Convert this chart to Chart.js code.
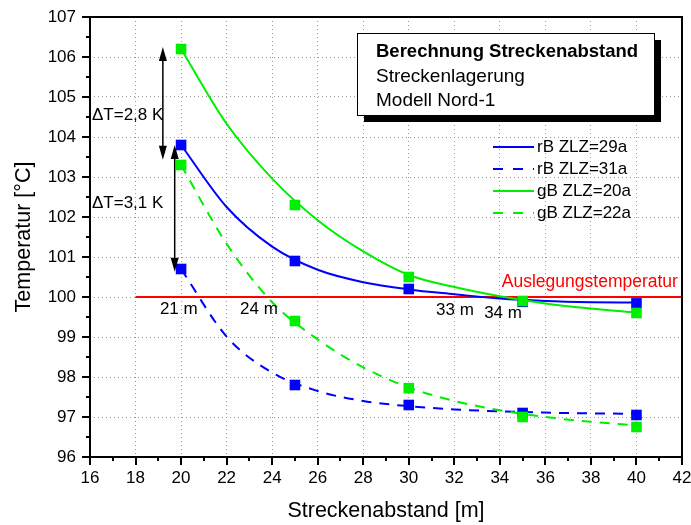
<!DOCTYPE html>
<html>
<head>
<meta charset="utf-8">
<script src="https://cdn.jsdelivr.net/npm/chart.js@4.4.1/dist/chart.umd.min.js"></script>
<style>
  html, body { margin: 0; padding: 0; background: #fff; }
</style>
</head>
<body>
<canvas id="myChart" width="691" height="525"></canvas>
<script>
// --- measured points (square markers) ---
const distances = [20, 25, 30, 35, 40];
const rB29 = [103.8, 100.9, 100.2, 99.88, 99.84];
const rB31 = [100.7, 97.8, 97.3, 97.1, 97.05];
const gB20 = [106.2, 102.3, 100.5, 99.9, 99.6];
const gB22 = [103.3, 99.4, 97.72, 97.0, 96.75];

// --- fitted curves ---
const fitX = [20, 22, 24, 26, 28, 30, 32, 34, 36, 38, 40];
const rB29fit = [103.8, 102.25, 101.26, 100.68, 100.37, 100.19, 100.07, 99.96, 99.9, 99.87, 99.86];
const rB31fit = [100.7, 99.01, 98.11, 97.65, 97.4, 97.27, 97.19, 97.14, 97.11, 97.09, 97.08];
const gB20fit = [106.2, 104.33, 102.96, 101.92, 101.14, 100.55, 100.25, 100.02, 99.84, 99.71, 99.61];
const gB22fit = [103.3, 101.33, 99.87, 98.94, 98.24, 97.74, 97.4, 97.17, 97.0, 96.88, 96.79];

const seriesLabels = ["rB ZLZ=29a", "rB ZLZ=31a", "gB ZLZ=20a", "gB ZLZ=22a"];

const designTemp = 100;
const designRange = [18, 42];
const designLabel = "Auslegungstemperatur";

const xTicks = [16, 42, 2];
const yTicks = [96, 107, 1];

// crossing labels (x, y, text)
const crossLabels = [
  [19.9, 99.7, "21 m"],
  [23.42, 99.7, "24 m"],
  [32.03, 99.66, "33 m"],
  [34.14, 99.6, "34 m"],
];
// delta arrows (x, yTop, yBottom, label, labelY)
const deltaArrows = [
  [19.2, 106.25, 103.43, "\u0394T=2,8 K", 104.53],
  [19.72, 103.8, 100.63, "\u0394T=3,1 K", 102.35],
];
const boxLines = ["Berechnung Streckenabstand", "Streckenlagerung", "Modell Nord-1"];

const FONT = "'Liberation Sans', Arial, sans-serif";
const BLUE = "#0000ff";
const GREEN = "#00ee00";

function toPoints(xs, values) {
  return xs.map((d, i) => ({ x: d, y: values[i] }));
}

function curve(label, values, color, dashed, order) {
  return {
    label: label,
    data: toPoints(fitX, values),
    borderColor: color,
    borderWidth: 2,
    borderDash: dashed ? [10, 8] : [],
    pointRadius: 0,
    cubicInterpolationMode: "monotone",
    order: order,
  };
}

function markers(values, color, order) {
  return {
    label: "",
    data: toPoints(distances, values),
    showLine: false,
    pointStyle: "rect",
    pointRadius: 7.5,
    pointBackgroundColor: color,
    pointBorderColor: color,
    pointBorderWidth: 0,
    order: order,
  };
}

const datasets = [
  curve(seriesLabels[0], rB29fit, BLUE, false, 8),
  curve(seriesLabels[1], rB31fit, BLUE, true, 7),
  curve(seriesLabels[2], gB20fit, GREEN, false, 5),
  curve(seriesLabels[3], gB22fit, GREEN, true, 6),
  markers(rB29, BLUE, 4),
  markers(rB31, BLUE, 3),
  markers(gB20, GREEN, 1),
  markers(gB22, GREEN, 2),
  {
    label: designLabel,
    data: designRange.map((v) => ({ x: v, y: designTemp })),
    borderColor: "#ff0000",
    borderWidth: 2,
    pointRadius: 0,
    order: 9,
  },
];

function arrowHead(ctx, x, y, dir) {
  ctx.beginPath();
  ctx.moveTo(x, y);
  ctx.lineTo(x - 4, y - dir * 14);
  ctx.lineTo(x + 4, y - dir * 14);
  ctx.closePath();
  ctx.fill();
}

const overlay = {
  id: "overlay",
  afterDraw(chart) {
    const { ctx, chartArea: a } = chart;
    const x = chart.scales.x;
    const y = chart.scales.y;
    ctx.save();

    // frame
    ctx.strokeStyle = "#000";
    ctx.lineWidth = 2;
    ctx.strokeRect(a.left, a.top, a.right - a.left, a.bottom - a.top);

    // major + minor ticks (outward)
    ctx.beginPath();
    for (let v = xTicks[0]; v <= xTicks[1]; v += xTicks[2] / 2) {
      const px = Math.round(x.getPixelForValue(v));
      const len = (v - xTicks[0]) % xTicks[2] === 0 ? 8 : 4;
      ctx.moveTo(px, a.bottom);
      ctx.lineTo(px, a.bottom + len);
    }
    for (let v = yTicks[0]; v <= yTicks[1]; v += yTicks[2] / 2) {
      const py = Math.round(y.getPixelForValue(v));
      const len = (v - yTicks[0]) % yTicks[2] === 0 ? 8 : 4;
      ctx.moveTo(a.left, py);
      ctx.lineTo(a.left - len, py);
    }
    ctx.stroke();

    // design temperature label
    ctx.font = "17.5px " + FONT;
    ctx.fillStyle = "#ff0000";
    ctx.textAlign = "right";
    ctx.textBaseline = "middle";
    ctx.fillText(designLabel, x.getPixelForValue(41.82), y.getPixelForValue(100.37));

    // crossing labels
    ctx.font = "17px " + FONT;
    ctx.fillStyle = "#000";
    ctx.textAlign = "center";
    crossLabels.forEach(([vx, vy, t]) => {
      ctx.fillText(t, x.getPixelForValue(vx), y.getPixelForValue(vy));
    });

    // delta arrows
    ctx.lineWidth = 1.5;
    ctx.textAlign = "left";
    deltaArrows.forEach(([vx, top, bottom, label, ly]) => {
      const px = x.getPixelForValue(vx);
      const pt = y.getPixelForValue(top);
      const pb = y.getPixelForValue(bottom);
      ctx.beginPath();
      ctx.moveTo(px, pt + 10);
      ctx.lineTo(px, pb - 10);
      ctx.stroke();
      arrowHead(ctx, px, pt, -1);
      arrowHead(ctx, px, pb, 1);
      ctx.fillText(label, a.left + 2, y.getPixelForValue(ly));
    });

    // text box with shadow
    const bx = 357, by = 33, bw = 297, bh = 82;
    ctx.fillStyle = "#000";
    ctx.fillRect(bx + 7, by + 7, bw, bh);
    ctx.fillStyle = "#fff";
    ctx.fillRect(bx, by, bw, bh);
    ctx.lineWidth = 1;
    ctx.strokeStyle = "#000";
    ctx.strokeRect(bx + 0.5, by + 0.5, bw, bh);
    ctx.fillStyle = "#000";
    boxLines.forEach((t, i) => {
      ctx.font = (i === 0 ? "bold 18.5px " : "19px ") + FONT;
      ctx.fillText(t, bx + 19, by + 19 + i * 24.5);
    });

    // legend
    ctx.font = "17px " + FONT;
    chart.data.datasets.slice(0, 4).forEach((ds, i) => {
      const ly = 147 + i * 22;
      ctx.strokeStyle = ds.borderColor;
      ctx.lineWidth = 2;
      ctx.setLineDash(ds.borderDash.length ? [10, 10] : []);
      ctx.beginPath();
      ctx.moveTo(493, ly);
      ctx.lineTo(534, ly);
      ctx.stroke();
      ctx.setLineDash([]);
      ctx.fillStyle = "#000";
      ctx.fillText(ds.label, 537, ly);
    });

    ctx.restore();
  },
};

const ctx = document.getElementById("myChart").getContext("2d");
const myChart = new Chart(ctx, {
  type: "line",
  data: { datasets: datasets },
  plugins: [overlay],
  options: {
    responsive: false,
    animation: false,
    layout: { padding: { top: 17, right: 9, left: 0, bottom: 0 } },
    plugins: { legend: { display: false }, tooltip: { enabled: false } },
    scales: {
      x: {
        type: "linear",
        min: xTicks[0],
        max: xTicks[1],
        ticks: {
          stepSize: xTicks[2],
          padding: 11,
          color: "#000",
          font: { family: FONT, size: 17 },
        },
        grid: { color: "#9a9a9a", lineWidth: 1, drawTicks: false },
        border: { display: false, dash: [1, 3] },
        title: {
          display: true,
          text: "Streckenabstand [m]",
          color: "#000",
          font: { family: FONT, size: 21.5 },
          padding: { top: 0, bottom: 1 },
        },
        afterFit(scale) {
          scale.height = 68;
          scale.paddingLeft = 0;
          scale.paddingRight = 0;
        },
      },
      y: {
        type: "linear",
        min: yTicks[0],
        max: yTicks[1],
        ticks: {
          stepSize: yTicks[2],
          padding: 14,
          color: "#000",
          font: { family: FONT, size: 17 },
        },
        grid: { color: "#9a9a9a", lineWidth: 1, drawTicks: false },
        border: { display: false, dash: [1, 3] },
        title: {
          display: true,
          text: "Temperatur [°C]",
          color: "#000",
          font: { family: FONT, size: 21.5 },
          padding: { top: 11, bottom: 0 },
        },
        afterFit(scale) {
          scale.width = 90;
          scale.paddingTop = 0;
          scale.paddingBottom = 0;
        },
      },
    },
  },
});
</script>
</body>
</html>
